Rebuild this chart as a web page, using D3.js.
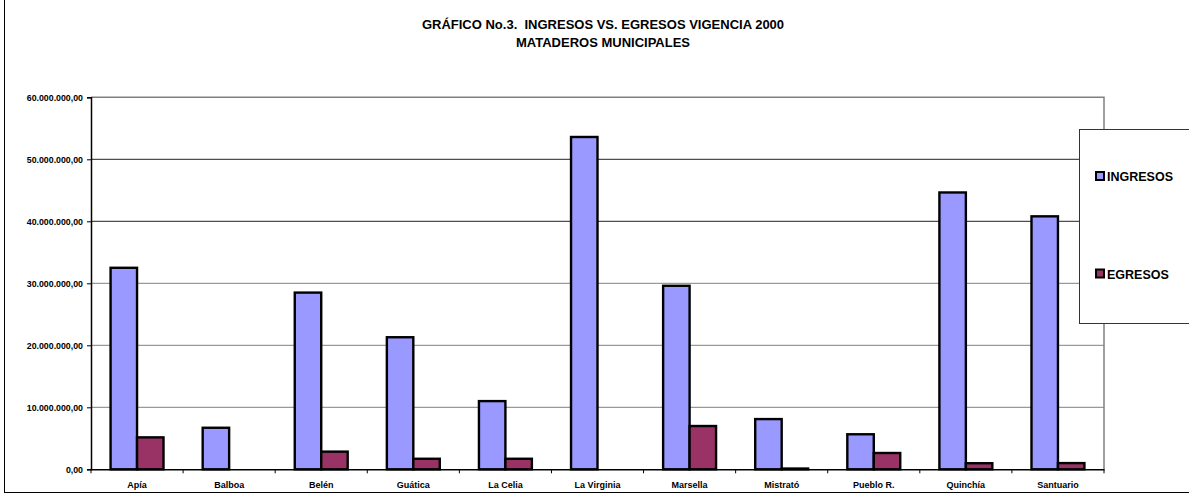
<!DOCTYPE html>
<html>
<head>
<meta charset="utf-8">
<script src="https://cdn.jsdelivr.net/npm/d3@7"></script>
<style>
  html, body { margin: 0; padding: 0; background: #fff; }
  svg { display: block; font-family: "Liberation Sans", Arial, sans-serif; }
</style>
</head>
<body>
<svg id="chart" width="1189" height="500"></svg>
<script>
// Municipal slaughterhouses: income vs. expenses, year 2000
const municipios = ["Apía", "Balboa", "Belén", "Guática", "La Celia", "La Virginia",
  "Marsella", "Mistrató", "Pueblo R.", "Quinchía", "Santuario"];
const ingresos = [32500000, 6700000, 28500000, 21300000, 11000000, 53600000,
  29600000, 8100000, 5650000, 44650000, 40800000];
const egresos = [5150000, 0, 2850000, 1700000, 1700000, 0,
  6980000, 120000, 2630000, 980000, 1000000];
const seriesNames = ["INGRESOS", "EGRESOS"];
const seriesColors = ["#9999FF", "#993366"];
const yTicks = [0, 10000000, 20000000, 30000000, 40000000, 50000000, 60000000];

const svg = d3.select("#chart");

// outer chart frame
svg.append("rect")
  .attr("x", 4.5).attr("y", -2).attr("width", 1200).attr("height", 494.5)
  .attr("fill", "#fff").attr("stroke", "#000").attr("stroke-width", 1);

const plot = { left: 91, right: 1104, top: 97.3, bottom: 469.3 };

const x = d3.scaleBand().domain(municipios).range([plot.left, plot.right])
  .paddingInner(0).paddingOuter(0);
const xs = d3.scaleBand().domain(seriesNames).range([0, x.bandwidth()])
  .paddingInner(0).paddingOuter(0.74);
const y = d3.scaleLinear().domain([0, 60000000]).range([plot.bottom, plot.top]);

// number format like 60.000.000,00
const fmtLocale = d3.formatLocale({ decimal: ",", thousands: ".", grouping: [3], currency: ["", ""] });
const fmt = fmtLocale.format(",.2f");

// gridlines
svg.append("g").selectAll("line")
  .data(yTicks.filter(t => t > 0 && t < 60000000))
  .join("line")
  .attr("x1", plot.left).attr("x2", plot.right)
  .attr("y1", d => y(d)).attr("y2", d => y(d))
  .attr("stroke", d => d >= 40000000 ? "#222" : "#808080")
  .attr("stroke-width", 1);

// plot area top / right border
svg.append("path")
  .attr("d", `M${plot.left},${y(60000000)}H${plot.right}V${plot.bottom}`)
  .attr("fill", "none").attr("stroke", "#808080").attr("stroke-width", 1.5);

// bars
const rows = municipios.map((m, i) => ({ m, vals: [ingresos[i], egresos[i]] }));
const groups = svg.append("g").selectAll("g")
  .data(rows).join("g")
  .attr("transform", d => `translate(${x(d.m)},0)`);
groups.selectAll("rect")
  .data(d => d.vals.map((v, k) => ({ v, k })).filter(e => e.v > 0))
  .join("rect")
  .attr("x", e => xs(seriesNames[e.k]))
  .attr("width", xs.bandwidth())
  .attr("y", e => y(e.v))
  .attr("height", e => y(0) - y(e.v))
  .attr("fill", e => seriesColors[e.k])
  .attr("stroke", "#000").attr("stroke-width", 2.4);

// y axis
const yAxis = svg.append("g")
  .attr("transform", `translate(${plot.left},0)`)
  .call(d3.axisLeft(y).tickValues(yTicks).tickFormat(fmt).tickSize(4).tickPadding(4));
yAxis.select(".domain").attr("stroke", "#000").attr("stroke-width", 1.5);
yAxis.selectAll(".tick line").attr("stroke", "#000");
yAxis.selectAll(".tick text")
  .attr("font-size", "8.8px").attr("font-weight", "bold").attr("fill", "#000");

// x axis with ticks on category boundaries
const xAxis = svg.append("g")
  .attr("transform", `translate(0,${plot.bottom})`)
  .call(d3.axisBottom(x).tickSize(0).tickPadding(12));
xAxis.select(".domain").attr("stroke", "#000").attr("stroke-width", 1.5);
xAxis.selectAll(".tick text")
  .attr("font-size", "9px").attr("font-weight", "bold").attr("fill", "#000");
xAxis.selectAll(".boundary")
  .data(municipios.map(m => x(m)).concat([plot.right]))
  .join("line").attr("class", "boundary")
  .attr("x1", d => d).attr("x2", d => d)
  .attr("y1", 0).attr("y2", 4)
  .attr("stroke", "#000");

// title
const title = svg.append("text")
  .attr("text-anchor", "middle")
  .attr("font-size", "13px").attr("font-weight", "bold").attr("fill", "#000");
title.append("tspan").attr("x", 603).attr("y", 28.5).attr("xml:space", "preserve")
  .text("GRÁFICO No.3.  INGRESOS VS. EGRESOS VIGENCIA 2000");
title.append("tspan").attr("x", 603).attr("y", 46.5)
  .text("MATADEROS MUNICIPALES");

// legend
const legend = svg.append("g");
legend.append("rect")
  .attr("x", 1079.5).attr("y", 129.5).attr("width", 200).attr("height", 194)
  .attr("fill", "#fff").attr("stroke", "#333").attr("stroke-width", 1);
const legendY = [176.5, 274];
seriesNames.forEach((s, i) => {
  legend.append("rect")
    .attr("x", 1096).attr("y", legendY[i] - 4.5).attr("width", 8).attr("height", 8)
    .attr("fill", seriesColors[i]).attr("stroke", "#000").attr("stroke-width", 2);
  legend.append("text")
    .attr("x", 1107).attr("y", legendY[i] + 4.5)
    .attr("font-size", "12.5px").attr("font-weight", "bold").attr("fill", "#000")
    .text(s);
});
</script>
</body>
</html>
